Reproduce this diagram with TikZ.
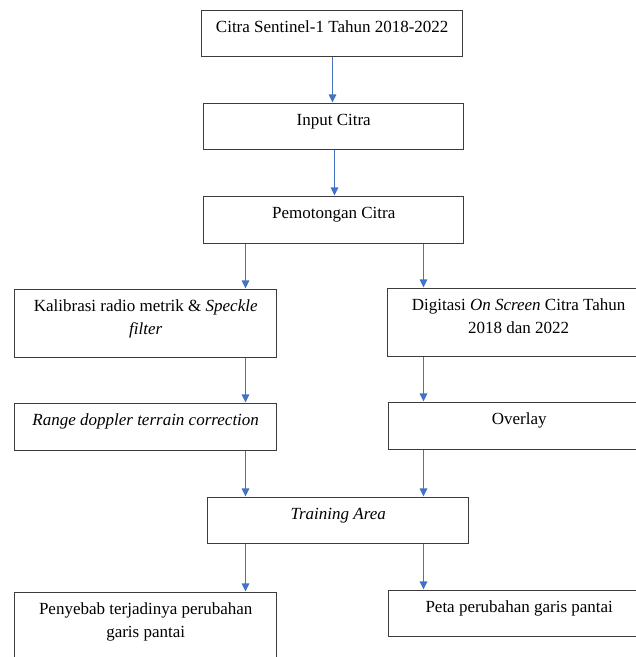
\documentclass[tikz,border=0pt]{standalone}
\usepackage{fontspec}
\setmainfont{Liberation Serif}
\usetikzlibrary{arrows.meta}
\definecolor{arrblue}{RGB}{68,114,196}
\definecolor{boxline}{RGB}{60,60,60}
\newcommand{\boxtxt}[3]{\parbox[c][#2][t]{#1}{\centering\rule{0pt}{22pt}#3\par}}
\begin{document}
\begin{tikzpicture}[x=1pt,y=-1pt,
  fbox/.style={draw=boxline, line width=1.4pt, inner sep=0pt, anchor=north west, fill=white},
  arr/.style={draw=arrblue, line width=1.2pt, -{Triangle[width=7.5pt,length=8pt]}, shorten >=0.6pt}]
\useasboundingbox (0,0) rectangle (636,657);
\fill[white] (0,0) rectangle (636,657);
\clip (0,0) rectangle (636,657);
\fontsize{17}{23}\selectfont
% boxes
\node[fbox] (b1) at (201,10) {\boxtxt{261pt}{46pt}{Citra Sentinel-1 Tahun 2018-2022}};
\node[fbox] (b2) at (203,103) {\boxtxt{260pt}{46pt}{Input Citra}};
\node[fbox] (b3) at (203,196) {\boxtxt{260pt}{47pt}{Pemotongan Citra}};
\node[fbox] (b4) at (14,289) {\boxtxt{262pt}{68pt}{Kalibrasi radio metrik \& \textit{Speckle}\\\textit{filter}}};
\node[fbox] (b5) at (387,288) {\boxtxt{262pt}{68pt}{Digitasi \textit{On Screen} Citra Tahun\\2018 dan 2022}};
\node[fbox] (b6) at (14,403) {\boxtxt{262pt}{47pt}{\textit{Range doppler terrain correction}}};
\node[fbox] (b7) at (388,402) {\boxtxt{261pt}{47pt}{Overlay}};
\node[fbox] (b8) at (207,497) {\boxtxt{261pt}{46pt}{\textit{Training Area}}};
\node[fbox] (b9) at (14,592) {\boxtxt{262pt}{80pt}{Penyebab terjadinya perubahan\\garis pantai}};
\node[fbox] (b10) at (388,590) {\boxtxt{261pt}{46pt}{Peta perubahan garis pantai}};
% column coordinates
\coordinate (cA) at (332.5,0);
\coordinate (cB) at (334.5,0);
\coordinate (cL) at (245.5,0);
\coordinate (cR) at (423.5,0);
% arrows
\draw[arr] (b1.south -| cA) -- (b2.north -| cA);
\draw[arr] (b2.south -| cB) -- (b3.north -| cB);
\draw[arr] (b3.south -| cL) -- (b4.north -| cL);
\draw[arr] (b3.south -| cR) -- (b5.north -| cR);
\draw[arr] (b4.south -| cL) -- (b6.north -| cL);
\draw[arr] (b5.south -| cR) -- (b7.north -| cR);
\draw[arr] (b6.south -| cL) -- (b8.north -| cL);
\draw[arr] (b7.south -| cR) -- (b8.north -| cR);
\draw[arr] (b8.south -| cL) -- (b9.north -| cL);
\draw[arr] (b8.south -| cR) -- (b10.north -| cR);
\end{tikzpicture}
\end{document}
